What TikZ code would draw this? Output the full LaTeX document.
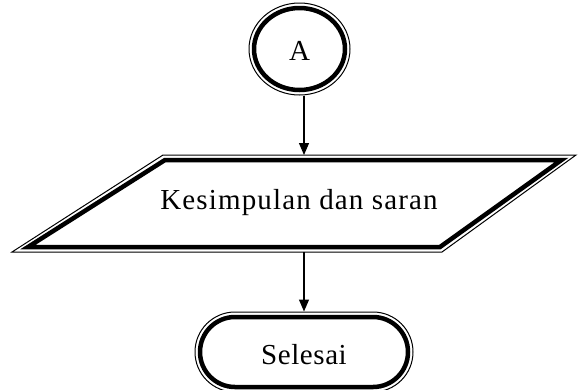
\documentclass[tikz,border=0pt]{standalone}
\usepackage{fontspec}
\setmainfont{Liberation Serif}
\usetikzlibrary{shapes.geometric,shapes.misc,arrows.meta}
\begin{document}
\begin{tikzpicture}[x=1pt,y=-1pt,
  thinline/.style={draw=black,line width=1pt},
  thickline/.style={draw=black,line width=4.5pt},
  arr/.style={draw=black,line width=1.1pt,-{Triangle[length=12pt,width=10pt]}},
  lbl/.style={font=\fontsize{29}{31}\selectfont,inner sep=0pt}]
\useasboundingbox (0,0) rectangle (580,389);
% connector A
\node[ellipse,thinline,minimum width=101pt,minimum height=92pt,inner sep=0pt] (A) at (299.5,49) {};
\node[ellipse,thickline,minimum width=91pt,minimum height=82pt,inner sep=0pt] (Ain) at (299.5,49) {};
\node[lbl] (Atxt) at (299.5,51) {A};
% parallelogram
\draw[thinline,line join=miter] (163,155) -- (576,155) -- (442,252) -- (12,252) -- cycle;
\draw[thickline,line join=miter] (165,160) -- (561.5,160) -- (440,247) -- (28,247) -- cycle;
\node[lbl] (P) at (299,203) {\addfontfeature{LetterSpace=4}Kesimpulan dan saran};
\coordinate (Ptop) at (304,155);
\coordinate (Pbot) at (304,252);
% terminal
\node[rounded rectangle,thinline,minimum width=218pt,minimum height=80pt,inner sep=0pt] (S) at (304,352) {};
\node[rounded rectangle,thickline,minimum width=208pt,minimum height=70pt,inner sep=0pt] (Sin) at (304,352) {};
\node[lbl] (Stxt) at (304,355) {\addfontfeature{LetterSpace=2}Selesai};
% connectors
\draw[arr] (A.south -| Ptop) -- (Ptop);
\draw[arr] (Pbot) -- (S.north -| Pbot);
\end{tikzpicture}
\end{document}
